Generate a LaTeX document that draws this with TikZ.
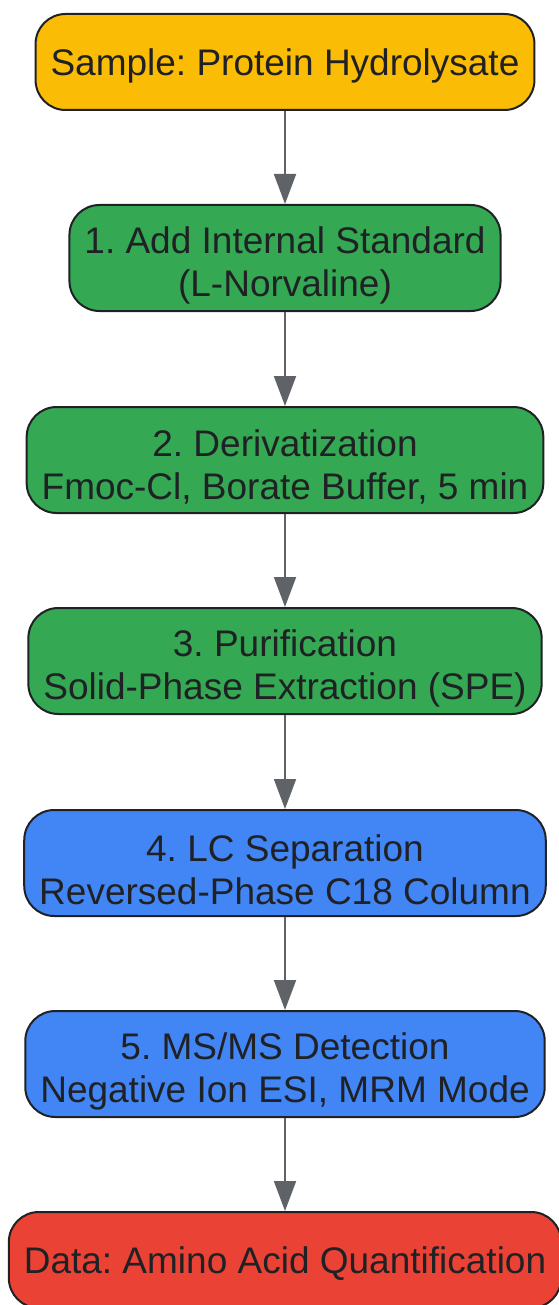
\documentclass[tikz,border=0pt]{standalone}
\usepackage{fontspec}
\setmainfont{Liberation Sans}
\frenchspacing
\usetikzlibrary{positioning,arrows.meta}
\definecolor{sampleyellow}{HTML}{FBBC05}
\definecolor{stepgreen}{HTML}{34A853}
\definecolor{stepblue}{HTML}{4285F4}
\definecolor{datared}{HTML}{EA4335}
\definecolor{inkdark}{HTML}{202124}
\definecolor{arrowgray}{HTML}{5F6368}
\newcommand{\TopStrut}{\rule{0pt}{34pt}}
\newcommand{\BigTopStrut}{\rule{0pt}{41pt}}
\tikzset{
  BoxStyle/.style = { rectangle, rounded corners=30pt, draw=inkdark,
                      line width=2pt, text=inkdark, align=center,
                      inner xsep=15pt, inner ysep=0pt,
                      font=\fontsize{37}{43}\selectfont },
  OneLine/.style = { BoxStyle, minimum height=96pt },
  TwoLine/.style = { BoxStyle, minimum height=106pt },
  EdgeStyle/.style = { arrowgray, line width=2pt,
                       -{Triangle[width=22pt,length=30pt]} } }
\begin{document}
\begin{tikzpicture}[x=1pt,y=1pt]
  \useasboundingbox (0,0) rectangle (558,-1305);
  \node[OneLine, fill=sampleyellow] (sample) at (285,-62)
    {\TopStrut Sample: Protein Hydrolysate};
  \node[TwoLine, fill=stepgreen, below=93pt of sample] (istd)
    {\BigTopStrut 1. Add Internal Standard\\(L-Norvaline)};
  \node[TwoLine, fill=stepgreen, below=94pt of istd] (deriv)
    {\BigTopStrut 2. Derivatization\\Fmoc-Cl, Borate Buffer, 5 min};
  \node[TwoLine, fill=stepgreen, below=93pt of deriv] (purif)
    {\BigTopStrut 3. Purification\\Solid-Phase Extraction (SPE)};
  \node[TwoLine, fill=stepblue, below=94pt of purif] (lcsep)
    {\BigTopStrut 4. LC Separation\\Reversed-Phase C18 Column};
  \node[TwoLine, fill=stepblue, below=93pt of lcsep] (msms)
    {\BigTopStrut 5. MS/MS Detection\\Negative Ion ESI, MRM Mode};
  \node[OneLine, fill=datared, below=93pt of msms] (data)
    {\TopStrut Data: Amino Acid Quantification};

  \draw[EdgeStyle] (sample) -- (istd);
  \draw[EdgeStyle] (istd) -- (deriv);
  \draw[EdgeStyle] (deriv) -- (purif);
  \draw[EdgeStyle] (purif) -- (lcsep);
  \draw[EdgeStyle] (lcsep) -- (msms);
  \draw[EdgeStyle] (msms) -- (data);
\end{tikzpicture}
\end{document}
